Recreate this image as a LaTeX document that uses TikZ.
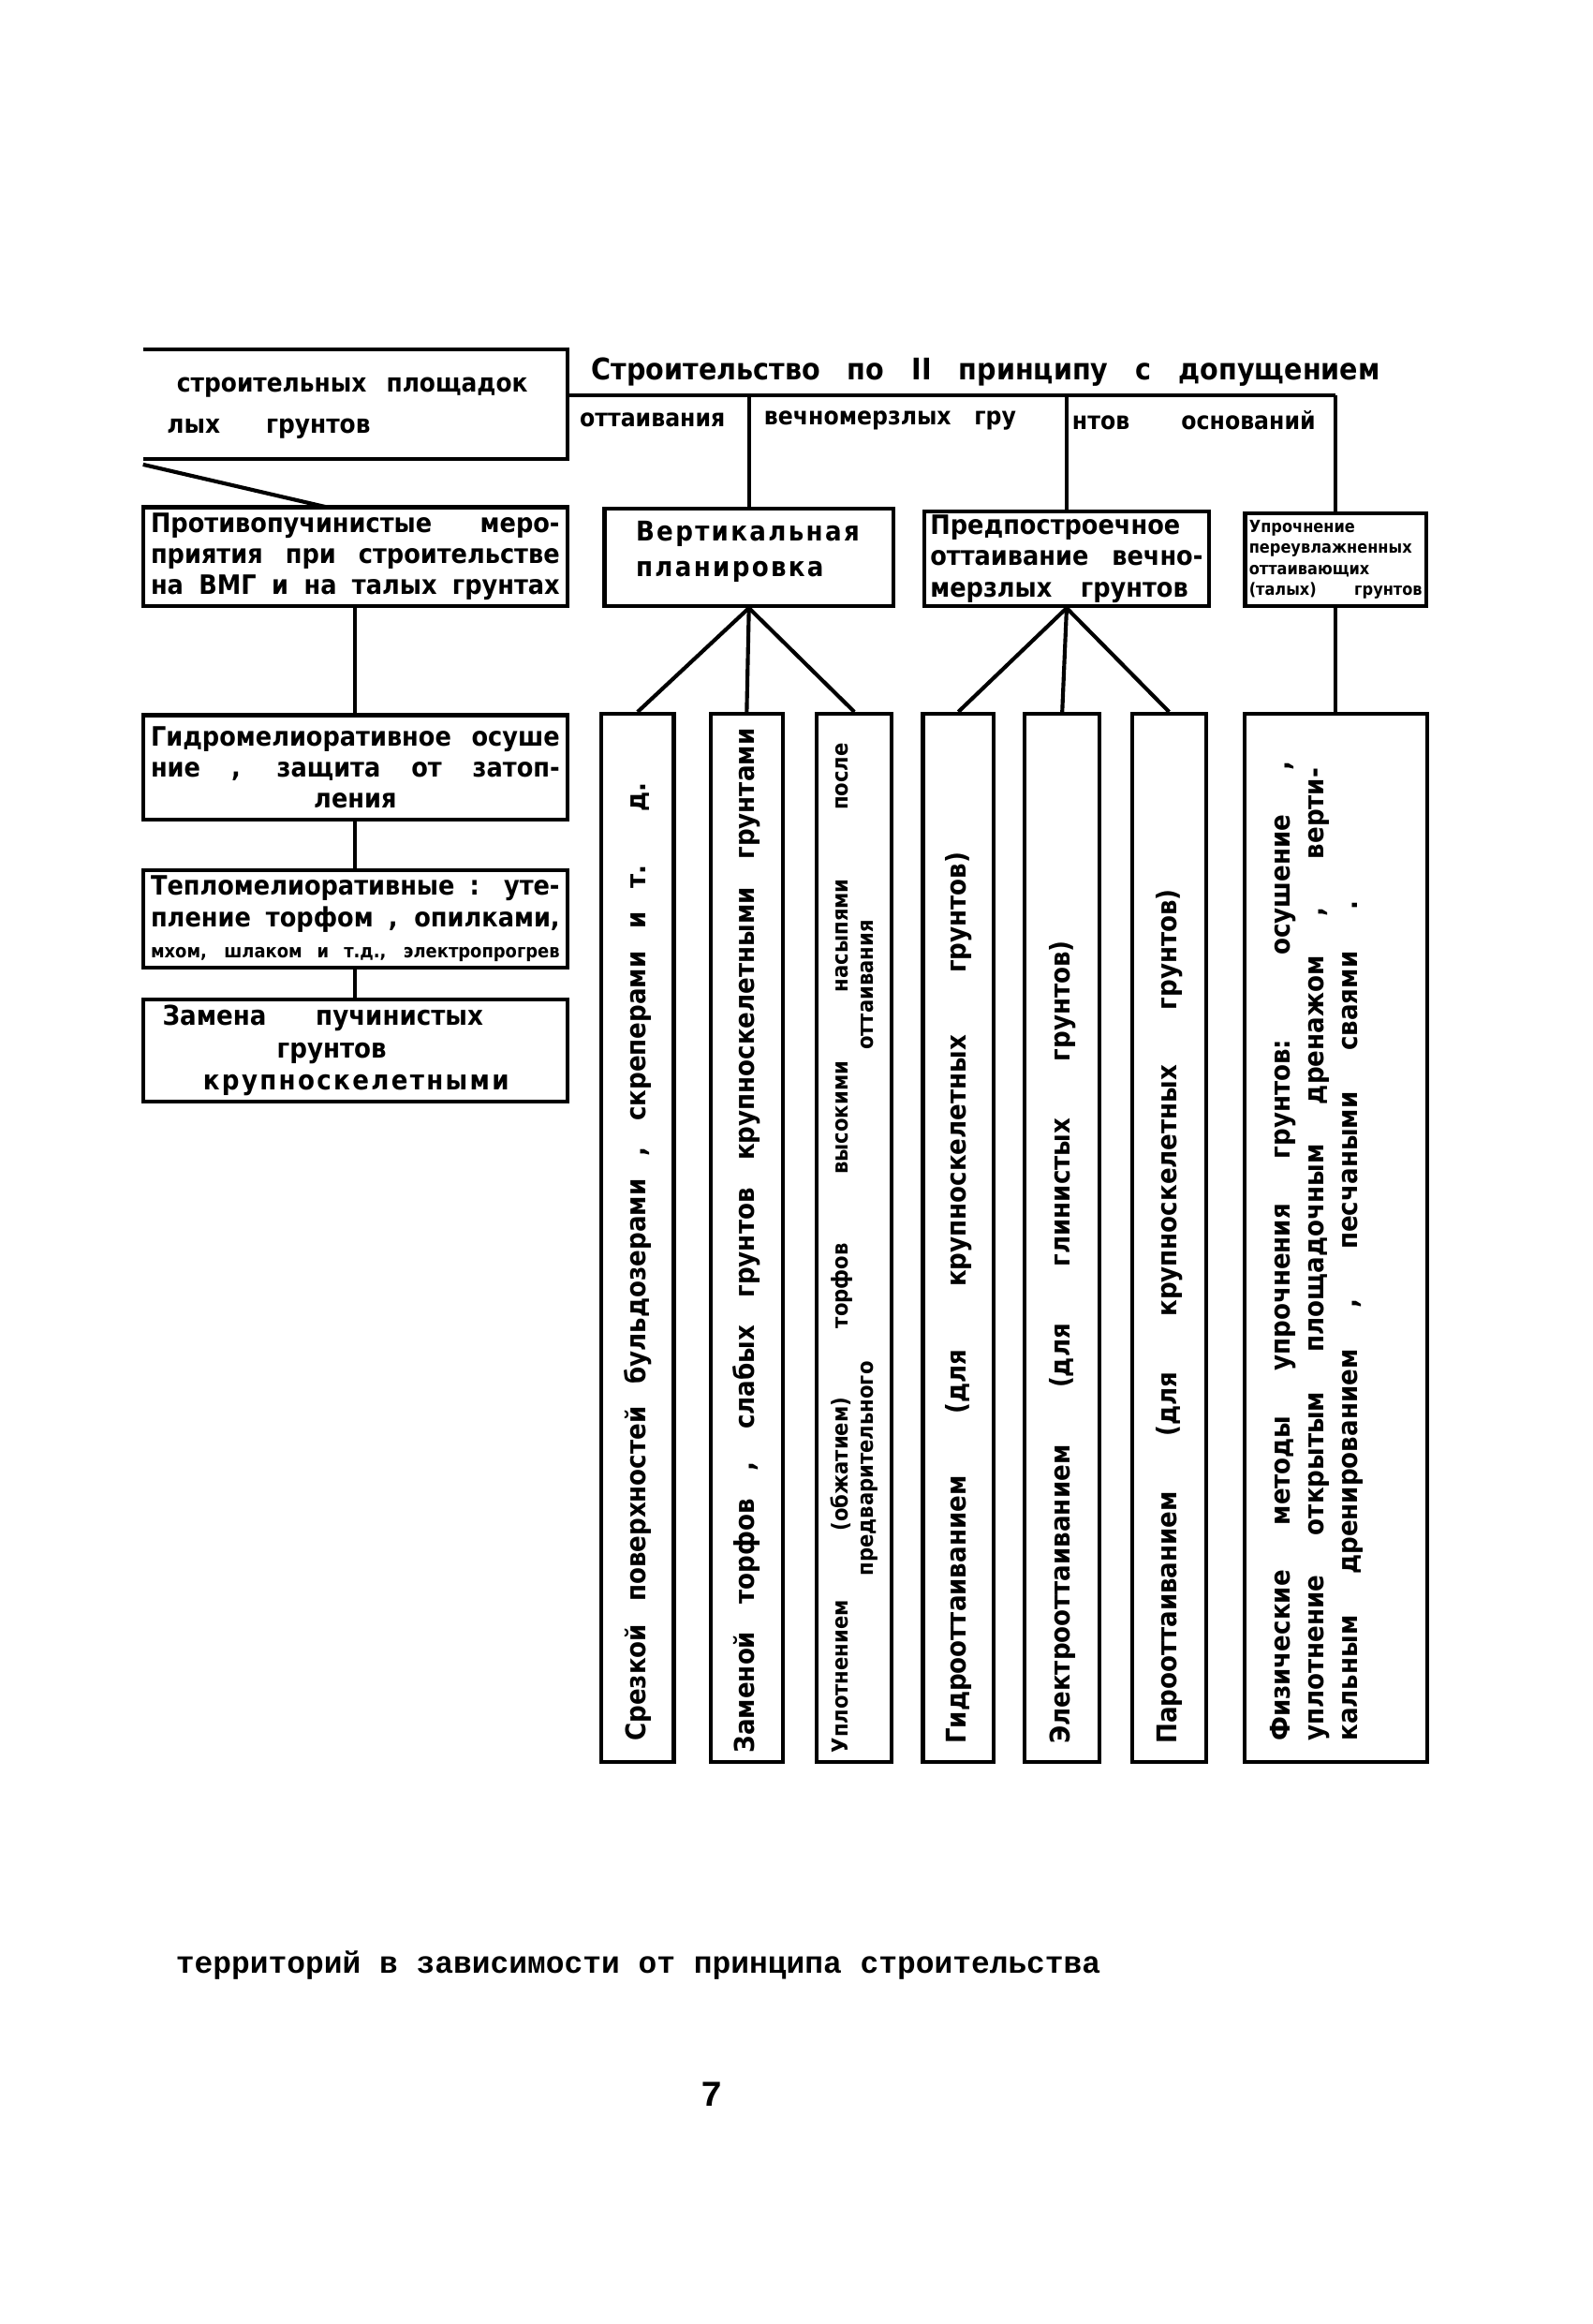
\documentclass[tikz,border=0pt]{standalone}
\usepackage{fontspec}
\setmainfont{DejaVu Sans Condensed}
\newfontfamily\typew{Liberation Mono}
\newfontfamily\spaced{DejaVu Sans Condensed}[LetterSpace=8]
\usetikzlibrary{positioning}
\newcommand{\jline}[2]{\makebox[#1][s]{#2}}

\begin{document}
\begin{tikzpicture}[x=0.02cm, y=-0.02cm, line width=1.5pt,
	box/.style={draw, inner sep=0pt, align=center, font=\bfseries\fontsize{10.3}{12}\selectfont},
	tall/.style={draw, inner sep=0pt, minimum height=14.22cm},
	vtext/.style={rotate=90, anchor=west, inner sep=0pt, font=\bfseries\fontsize{10.5}{12}\selectfont},
	lbl/.style={inner sep=0pt, font=\bfseries\fontsize{10}{12}\selectfont}]

			\useasboundingbox (0,0) rectangle (1080,1576);

			% Cut box on the left
			\coordinate (tl) at (97,237);
			\coordinate (tr) at (385,237);
			\coordinate (br) at (385,311);
			\coordinate (bl) at (97,311);
			\draw (tl) -- (tr) -- (br) -- (bl);
			\node[lbl] (plosh) at (239,263) {\jline{4.76cm}{строительных площадок}};
			\node[lbl, anchor=west] (lyh) at (112,291) {\jline{2.76cm}{лых грунтов}};

			% Header
			\node[lbl, anchor=west, font=\bfseries\fontsize{11.5}{13}\selectfont] (head) at (400,252) {\jline{10.7cm}{Строительство по II принципу с допущением}};
			\coordinate (bus) at (385,268);
			\coordinate (busend) at (906,268);
			\node[lbl, anchor=west, font=\bfseries\fontsize{9.5}{11}\selectfont] (otta) at (392,285) {\jline{2.16cm}{оттаивания}};
			\node[lbl, anchor=west, font=\bfseries\fontsize{9.5}{11}\selectfont] (vech) at (517,285) {\jline{3.42cm}{вечномерзлых гру}};
			\node[lbl, anchor=west, font=\bfseries\fontsize{9.5}{11}\selectfont] (osn) at (726,285) {\jline{3.3cm}{нтов оснований}};

			% Left column
			\node[box, minimum width=5.76cm, minimum height=1.34cm] (prot) at (241,377.5) {\jline{5.55cm}{Противопучинистые меро-}\\ \jline{5.55cm}{приятия при строительстве}\\ \jline{5.55cm}{на ВМГ и на талых грунтах}};
			\node[box, minimum width=5.76cm, minimum height=1.42cm] (gidro) at (241,520.5) {\jline{5.55cm}{Гидромелиоративное осуше}\\ \jline{5.55cm}{ние , защита от затоп-}\\ ления};
			\node[box, minimum width=5.76cm, minimum height=1.32cm] (teplo) at (241,623) {\jline{5.55cm}{Тепломелиоративные : уте-}\\ \jline{5.55cm}{пление торфом , опилками,}\\ {\fontsize{7.2}{8}\selectfont\jline{5.55cm}{мхом, шлаком и т.д., электропрогрев}}};
			\node[box, minimum width=5.76cm, minimum height=1.38cm] (zam) at (241,712.5) {};
			\node[lbl, anchor=west, align=left, font=\bfseries\fontsize{10.5}{12.5}\selectfont] (zamt) at (109,712.5) {\jline{4.35cm}{Замена пучинистых}\\ \hspace*{1.55cm}грунтов\\ \hspace*{0.55cm}{\spaced крупноскелетными}};
			\coordinate (sl0) at (97,315);
			\coordinate (sl) at (222,344);

			% Middle and right boxes
			\node[box, minimum width=3.92cm, minimum height=1.32cm] (vert) at (508,378) {};
			\node[lbl, anchor=west, align=left, font=\spaced\bfseries\fontsize{10.5}{13.5}\selectfont] (vertt) at (430,374) {Вертикальная\\ планировка};
			\node[box, minimum width=3.86cm, minimum height=1.28cm, align=left] (pred) at (723.5,379) {Предпостроечное\\ \jline{3.7cm}{оттаивание вечно-}\\ \jline{3.5cm}{мерзлых грунтов}};
			\node[box, minimum width=2.46cm, minimum height=1.26cm, align=left, font=\bfseries\fontsize{6.5}{8}\selectfont] (upr) at (906,379.5) {Упрочнение\\ переувлажненных\\ оттаивающих\\ \jline{2.35cm}{(талых) грунтов}};

			% Tall boxes
			\node[tall, minimum width=0.98cm] (s_1) at (432.5,839.5) {};
			\node[tall, minimum width=0.98cm] (s_2) at (506.5,839.5) {};
			\node[tall, minimum width=1.02cm] (s_3) at (579.5,839.5) {};
			\node[tall, minimum width=0.96cm] (s_4) at (650,839.5) {};
			\node[tall, minimum width=1.02cm] (s_5) at (720.5,839.5) {};
			\node[tall, minimum width=1.0cm]  (s_6) at (793,839.5) {};
			\node[tall, minimum width=2.48cm] (s_7) at (906,839.5) {};

			\node[vtext] (t_1) at (432.5,1182) {\jline{13cm}{Срезкой поверхностей бульдозерами , скреперами и т. д.}};
			\node[vtext] (t_2) at (506.5,1190) {\jline{13.9cm}{Заменой торфов , слабых грунтов крупноскелетными грунтами}};
			\node[vtext, align=center, font=\bfseries\fontsize{8.5}{10}\selectfont] (t_3) at (579.5,1190) {\jline{13.7cm}{Уплотнением (обжатием) торфов высокими насыпями после}\\ \jline{8.9cm}{предварительного оттаивания}};
			\node[vtext] (t_4) at (650,1184) {\jline{12.1cm}{Гидрооттаиванием (для крупноскелетных грунтов)}};
			\node[vtext] (t_5) at (720.5,1184) {\jline{10.9cm}{Электрооттаиванием (для глинистых грунтов)}};
			\node[vtext] (t_6) at (793,1184) {\jline{11.6cm}{Парооттаиванием (для крупноскелетных грунтов)}};
			\node[vtext, align=left, font=\bfseries\fontsize{10.5}{13}\selectfont] (t_7) at (893,1182) {\jline{13.3cm}{Физические методы упрочнения грунтов: осушение ,}\\ \jline{13.2cm}{уплотнение открытым площадочным дренажом , верти-}\\ \jline{11.4cm}{кальным дренированием , песчаными сваями .}};

			% Caption
			\node[anchor=west, inner sep=0pt, font=\typew\bfseries\fontsize{11.9}{14}\selectfont] (capt) at (118,1333) {территорий в зависимости от принципа строительства};
			\node[inner sep=0pt, font=\typew\bfseries\fontsize{14}{16}\selectfont] (page) at (483,1420) {7};

			% Connect the nodes
			\draw (bus) -- (busend);
			\draw (vert.north) -- (vert.north |- bus);
			\draw (pred.north) -- (pred.north |- bus);
			\draw (upr.north) -- (upr.north |- bus);
			\draw (sl0) -- (sl);
			\draw (prot.south) -- (gidro.north);
			\draw (gidro.south) -- (teplo.north);
			\draw (teplo.south) -- (zam.north);
			\draw (vert.south) -- (s_1.north);
			\draw (vert.south) -- (s_2.north);
			\draw (vert.south) -- (s_3.north);
			\draw (pred.south) -- (s_4.north);
			\draw (pred.south) -- (s_5.north);
			\draw (pred.south) -- (s_6.north);
			\draw (upr.south) -- (s_7.north);

\end{tikzpicture}
\end{document}
